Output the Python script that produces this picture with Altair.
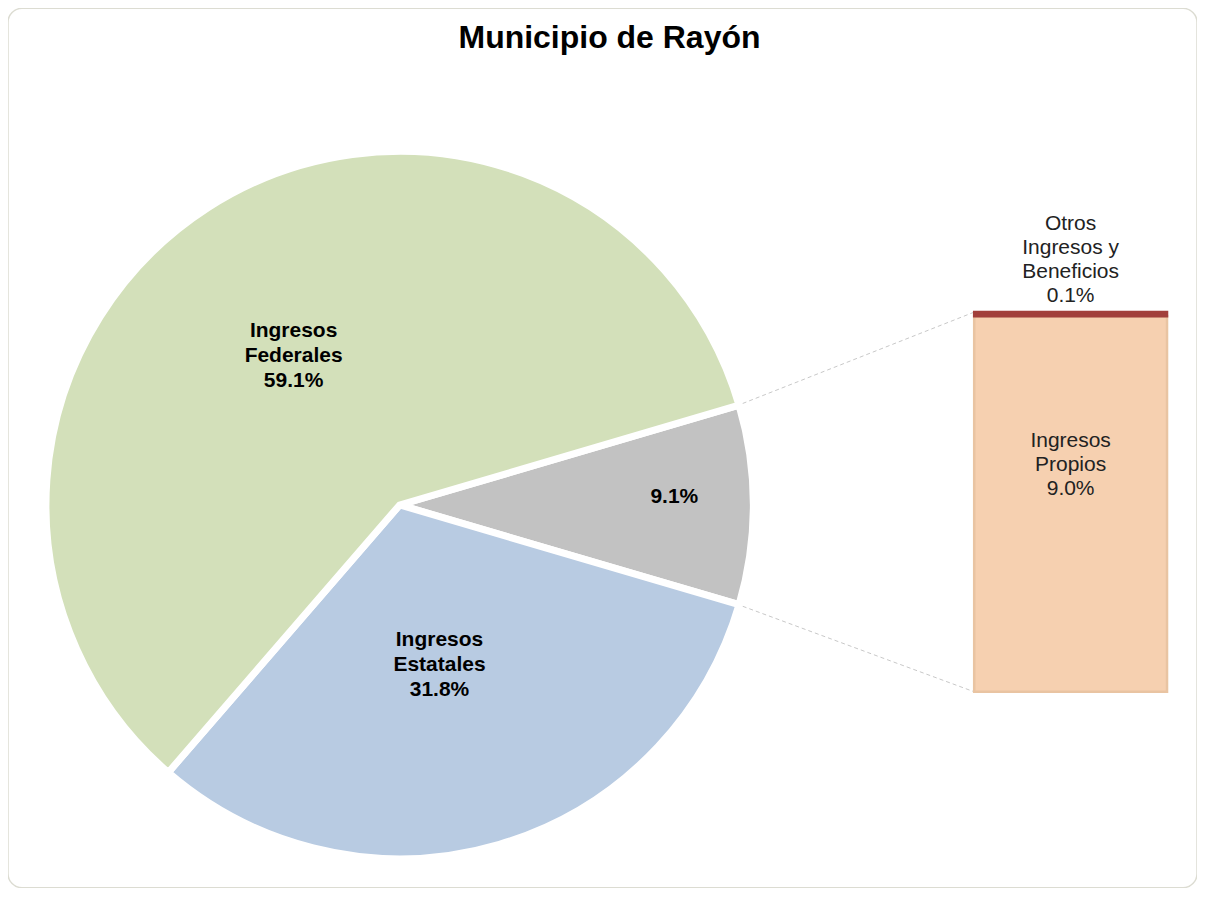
import math
import altair as alt
import pandas as pd

# ---- data ----
title_text = "Municipio de Rayón"
pie_categories = ["Ingresos Propios y Otros", "Ingresos Estatales", "Ingresos Federales"]
pie_labels = ["9.1%", "Ingresos\nEstatales\n31.8%", "Ingresos\nFederales\n59.1%"]
pie_values = [9.1, 31.8, 59.1]

bar_categories = ["Ingresos Propios", "Otros Ingresos y Beneficios"]
bar_labels = ["Ingresos\nPropios\n9.0%", "Otros\nIngresos  y\nBeneficios\n0.1%"]
bar_values = [9.0, 0.1]

# ---- styles / layout ----
colors = {
    "Ingresos Propios y Otros": "#c2c2c2",
    "Ingresos Estatales": "#b8cbe2",
    "Ingresos Federales": "#d3e0ba",
    "Ingresos Propios": "#f6d0b0",
    "Otros Ingresos y Beneficios": "#a23f3b",
}
W, H = 1190, 880
CX, CY, R = 392, 497, 354
# label placement: (radius in px, angular nudge in degrees)
label_place = {
    "Ingresos Propios y Otros": (275, -1.7),
    "Ingresos Estatales": (165, 2.4),
    "Ingresos Federales": (183, -2.7),
}
LH_PIE, LH_BAR = 25, 24
BAR_X0, BAR_X1, BAR_YB, BAR_YT = 967, 1160, 684, 304
FONT = "Liberation Sans"

pie_total = sum(pie_values)
half_gray = pie_values[0] / pie_total * math.pi
theta_start = math.pi / 2 - half_gray

pie_df = pd.DataFrame({
    "cat": pie_categories,
    "label": pie_labels,
    "v": pie_values,
    "idx": list(range(len(pie_values))),
})
# label positions derived from the slice mid-angles
cum = pie_df["v"].cumsum() - pie_df["v"] / 2
mid = theta_start + cum / pie_total * 2 * math.pi
lr = pie_df["cat"].map(lambda c: label_place[c][0])
mid = mid + pie_df["cat"].map(lambda c: math.radians(label_place[c][1]))
nlines = pie_df["label"].str.count("\n")
pie_df["lx"] = CX + lr * mid.apply(math.sin)
pie_df["ly"] = CY - lr * mid.apply(math.cos) - nlines * LH_PIE / 2

bar_df = pd.DataFrame({
    "cat": bar_categories,
    "label": bar_labels,
    "v": bar_values,
    "idx": list(range(len(bar_values))),
})

color_scale = alt.Scale(domain=list(colors.keys()), range=list(colors.values()))
theta_enc = alt.Theta("v:Q", stack=True,
                      scale=alt.Scale(domain=[0, pie_total],
                                      range=[theta_start, theta_start + 2 * math.pi]))

pie = alt.Chart(pie_df).mark_arc(radius=R, stroke="white", strokeWidth=7).encode(
    theta=theta_enc,
    order=alt.Order("idx:Q"),
    color=alt.Color("cat:N", scale=color_scale, legend=None),
    x=alt.value(CX), y=alt.value(CY),
)

pie_text = alt.Chart(pie_df).mark_text(
    lineBreak="\n", font=FONT, fontSize=21, fontWeight="bold", color="black", lineHeight=LH_PIE
).encode(
    text="label:N",
    x=alt.X("lx:Q", scale=None), y=alt.Y("ly:Q", scale=None),
)

bar_total = sum(bar_values)
ybar = alt.Scale(domain=[0, bar_total], range=[BAR_YB, BAR_YT])
bar_base = alt.Chart(bar_df).transform_stack(
    stack="v", as_=["v0", "v1"], groupby=[], sort=[alt.SortField("idx")]
)
bar = bar_base.mark_rect(strokeWidth=2.5).encode(
    x=alt.value(BAR_X0), x2=alt.value(BAR_X1),
    y=alt.Y("v0:Q", scale=ybar, axis=None), y2="v1:Q",
    color=alt.Color("cat:N", scale=color_scale, legend=None),
    stroke=alt.Color("cat:N", scale=alt.Scale(domain=bar_categories, range=["#e9c4a2", "#a23f3b"]), legend=None),
)

bar_mid = (BAR_X0 + BAR_X1) / 2
bar_text_main = alt.Chart(bar_df.iloc[[0]]).mark_text(
    lineBreak="\n", font=FONT, fontSize=21, color="#222222", lineHeight=LH_BAR
).encode(text="label:N", x=alt.value(bar_mid), y=alt.value(433))

bar_text_top = alt.Chart(bar_df.iloc[[1]]).mark_text(
    lineBreak="\n", font=FONT, fontSize=21, color="#222222", lineHeight=LH_BAR
).encode(text="label:N", x=alt.value(bar_mid), y=alt.value(216))

# connector lines from the gray slice's outer corners to the bar corners
a_top = theta_start
a_bot = theta_start + 2 * half_gray
conn_df = pd.DataFrame({
    "x": [CX + (R - 3) * math.sin(a_top), CX + (R - 3) * math.sin(a_bot)],
    "y": [CY - (R - 3) * math.cos(a_top), CY - (R - 3) * math.cos(a_bot)],
    "x2": [BAR_X0, BAR_X0],
    "y2": [BAR_YT, BAR_YB],
})
connectors = alt.Chart(conn_df).mark_rule(color="#c8c8c8", strokeWidth=1, strokeDash=[4, 3]).encode(
    x=alt.X("x:Q", scale=None), y=alt.Y("y:Q", scale=None),
    x2="x2:Q", y2="y2:Q",
)

title = alt.Chart(pd.DataFrame({"t": [title_text]})).mark_text(
    font=FONT, fontSize=32, fontWeight="bold", color="black"
).encode(text="t:N", x=alt.value(W / 2 + 7), y=alt.value(30))

chart = alt.layer(
    connectors, pie, pie_text, bar, bar_text_main, bar_text_top, title
).properties(
    width=W, height=H, autosize=alt.AutoSizeParams(type="none"), padding=0, background="white"
).resolve_scale(color="independent").configure_view(stroke="#dcdcd2", strokeWidth=1.5, cornerRadius=14)

chart.save("out.html", embed_options={"renderer": "svg", "actions": False})
